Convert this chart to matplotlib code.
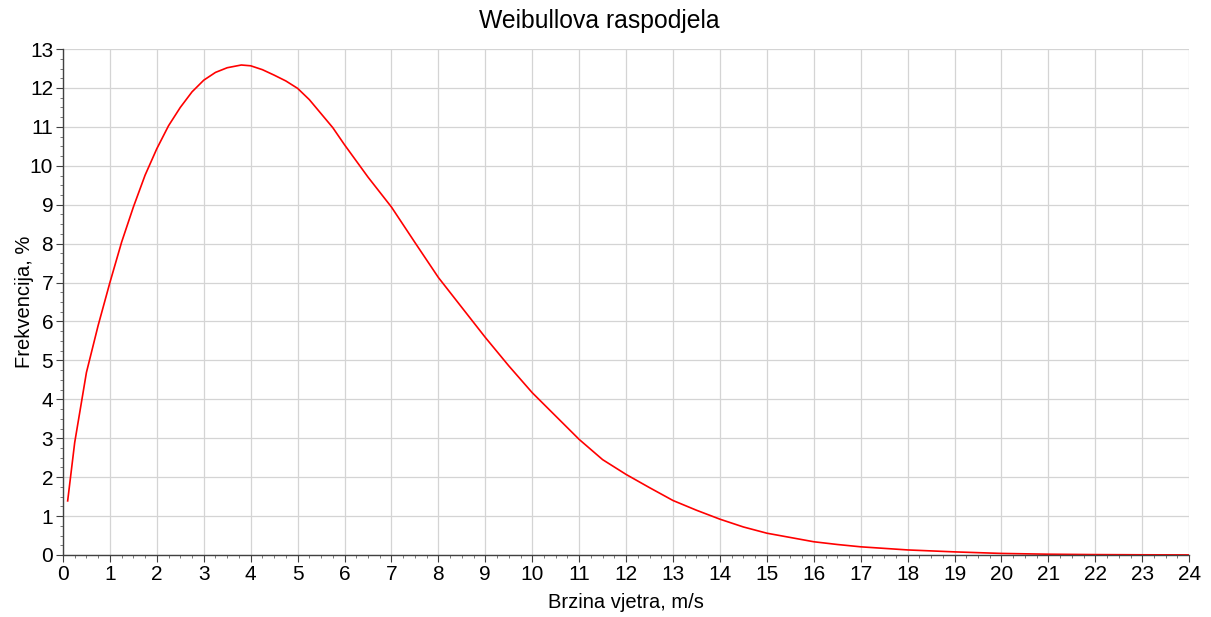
import numpy as np
import matplotlib.pyplot as plt
from matplotlib.ticker import MultipleLocator, AutoMinorLocator

plt.rcParams['font.family'] = ['Liberation Sans', 'DejaVu Sans']

# Wind speed (m/s) and frequency (%)
brzina = [0.1, 0.25, 0.5, 0.75, 1.0, 1.25, 1.5, 1.75, 2.0, 2.25, 2.5, 2.75,
          3.0, 3.25, 3.5, 3.8, 4.0, 4.25, 4.5, 4.75, 5.0, 5.25, 5.5, 5.75,
          6.0, 6.5, 7.0, 7.5, 8.0, 8.5, 9.0, 9.5, 10.0, 10.5, 11.0, 11.5,
          12.0, 12.5, 13.0, 13.5, 14.0, 14.5, 15.0, 15.5, 16.0, 16.5, 17.0,
          18.0, 19.0, 20.0, 21.0, 22.0, 23.0, 24.0]
frekvencija = [1.39, 2.89, 4.69, 5.9, 7.0, 8.04, 8.94, 9.76, 10.44, 11.03,
               11.5, 11.9, 12.2, 12.4, 12.52, 12.59, 12.57, 12.47, 12.33,
               12.18, 11.99, 11.7, 11.34, 10.98, 10.54, 9.71, 8.94, 8.03,
               7.13, 6.36, 5.59, 4.86, 4.17, 3.57, 2.97, 2.45, 2.07, 1.73,
               1.40, 1.15, 0.92, 0.72, 0.56, 0.45, 0.34, 0.27, 0.21, 0.13,
               0.08, 0.04, 0.02, 0.01, 0.005, 0.002]

fig = plt.figure(figsize=(12.11, 6.17), dpi=100)
ax = fig.add_axes([0.052, 0.1005, 0.930, 0.820])

ax.plot(brzina, frekvencija, color='red', linewidth=1.2)

ax.set_xlim(0, 24)
ax.set_ylim(0, 13)
ax.xaxis.set_major_locator(MultipleLocator(1))
ax.yaxis.set_major_locator(MultipleLocator(1))
ax.xaxis.set_minor_locator(AutoMinorLocator(4))
ax.yaxis.set_minor_locator(AutoMinorLocator(4))

ax.grid(True, which='major', color='#d4d4d4', linewidth=0.9)
ax.set_axisbelow(True)

for s in ['top', 'right']:
    ax.spines[s].set_visible(False)
for s in ['left', 'bottom']:
    ax.spines[s].set_color('#404040')
    ax.spines[s].set_linewidth(1.0)

ax.tick_params(which='major', length=5, width=0.8, color='#404040',
               labelsize=15, pad=2)
ax.tick_params(which='minor', length=2.5, width=0.6, color='#606060')

# title sits over the middle of the whole figure
fig.suptitle('Weibullova raspodjela', fontsize=17.8, x=0.495, y=0.985)
ax.set_xlabel('Brzina vjetra, m/s', fontsize=14.5, labelpad=7)
ax.set_ylabel('Frekvencija, %', fontsize=14.5, labelpad=-3)

fig.savefig('out.png', dpi=100)
